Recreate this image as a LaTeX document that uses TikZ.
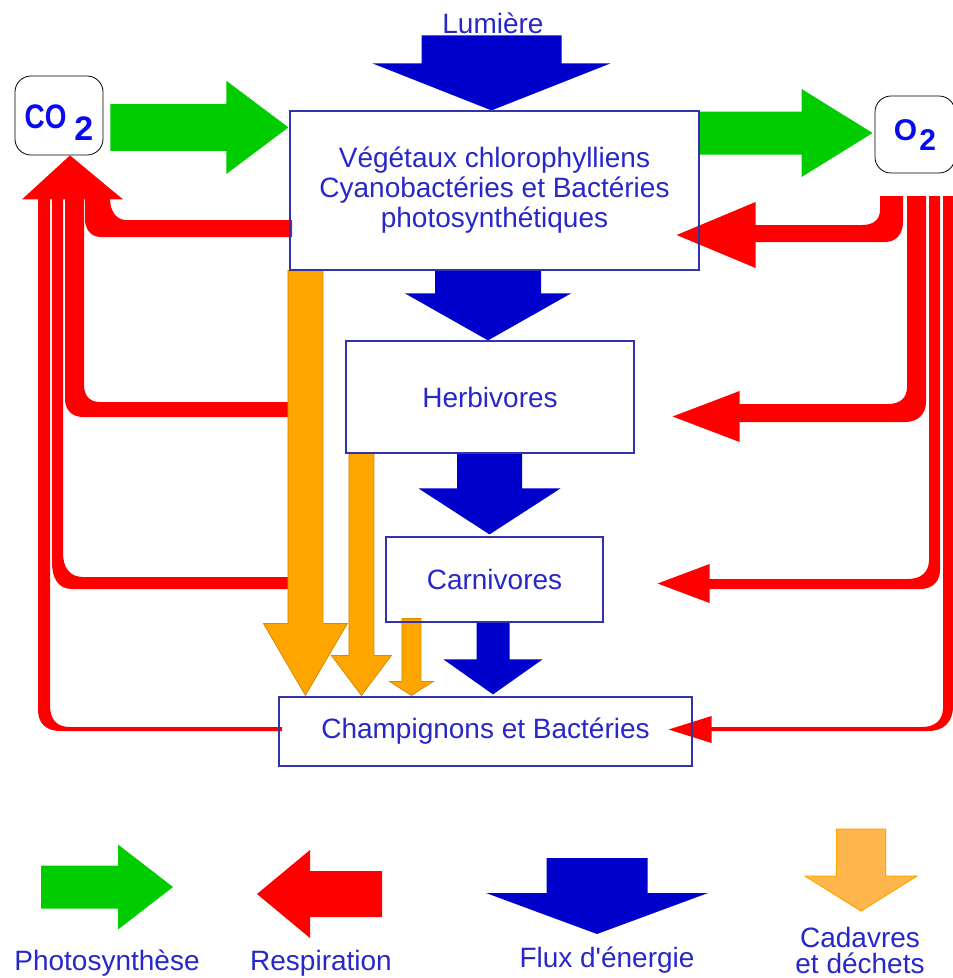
\documentclass[tikz,border=0pt]{standalone}
\usepackage{fontspec}
\setmainfont{Liberation Sans}
\usetikzlibrary{calc,backgrounds}
\definecolor{txtblue}{RGB}{40,40,200}
\definecolor{boxblue}{RGB}{50,50,170}
\definecolor{fgreen}{RGB}{0,204,0}
\definecolor{fred}{RGB}{255,0,0}
\definecolor{fblue}{RGB}{0,0,204}
\definecolor{forange}{RGB}{255,165,0}
\definecolor{forangeedge}{RGB}{215,140,0}
\definecolor{lorange}{RGB}{255,183,77}
\definecolor{chemblue}{RGB}{10,10,240}
% vertical fat arrow: style, from (y used), tip, shaft half width, head half width, head length
\newcommand{\vfat}[6]{\fill[#1] let \p1=(#2), \p2=(#3) in
 ({\x2-#4},{\y1}) -- ({\x2+#4},{\y1}) -- ({\x2+#4},{\y2+#6}) -- ({\x2+#5},{\y2+#6}) -- (\x2,\y2)
 -- ({\x2-#5},{\y2+#6}) -- ({\x2-#4},{\y2+#6}) -- cycle;}
% horizontal fat arrow: style, from (x used), tip, shaft half width, head half width, signed head length
\newcommand{\hfat}[6]{\fill[#1] let \p1=(#2), \p2=(#3) in
 ({\x1},{\y2+#4}) -- ({\x2-(#6)},{\y2+#4}) -- ({\x2-(#6)},{\y2+#5}) -- (\x2,\y2)
 -- ({\x2-(#6)},{\y2-#5}) -- ({\x2-(#6)},{\y2-#4}) -- ({\x1},{\y2-#4}) -- cycle;}
% left pointing red head: tip, half width, length
\newcommand{\lhead}[3]{\fill[fred] let \p2=(#1) in
 (\x2,\y2) -- ({\x2+#3},{\y2+#2}) -- ({\x2+#3},{\y2-#2}) -- cycle;}
\begin{document}
\begin{tikzpicture}[x=1pt,y=-1pt,
  txt/.style={font=\fontsize{28}{30}\selectfont, text=txtblue, inner sep=2pt},
  box/.style={draw=boxblue, line width=1.2pt, inner sep=0pt},
  chem/.style={draw=black, line width=0.8pt, rounded corners=16pt, inner sep=0pt,
    font=\fontsize{30}{32}\selectfont\bfseries, text=chemblue},
  orangearrow/.style={fill=forange, draw=forangeedge, line width=0.8pt},
  legorange/.style={fill=lorange, draw=forange, line width=1pt}]
\useasboundingbox (0,0) rectangle (953,978);

% boxes
\node[box, txt, align=center, minimum width=409, minimum height=159] (veg) at (494.5,190.5)
  {Végétaux chlorophylliens\\Cyanobactéries et Bactéries\\photosynthétiques};
\node[box, txt, minimum width=288, minimum height=112] (herb) at (490,397) {Herbivores};
\node[box, txt, minimum width=217, minimum height=85] (carn) at (494.5,579.5) {Carnivores};
\node[box, txt, minimum width=413, minimum height=69] (champ) at (485.5,731.5) {Champignons et Bactéries};
\node[chem, minimum width=88, minimum height=79] (co2) at (59,115.5)
  {\fontsize{34}{36}\selectfont\smash{\raisebox{-12.5pt}{\scalebox{0.82}[1]{CO}\hspace{8pt}\raisebox{-12pt}{2}}}};
\node[chem, minimum width=80, minimum height=77] (o2) at (915,134.5)
  {\smash{\raisebox{-5.5pt}{O\hspace{2pt}\raisebox{-10pt}{2}}}};
\node[txt, anchor=base] (lum) at (493,33) {Lumière};

% legend labels
\node[txt] (lphoto) at (107,963) {Photosynthèse};
\node[txt] (lresp) at (321,963) {Respiration};
\node[txt] (lflux) at (607,960) {Flux d{\addfontfeatures{Ligatures=TeXOff}'}énergie};
\node[txt, align=center, font=\fontsize{28}{26}\selectfont] (lcad) at (860,950) {Cadavres\\et déchets};

\begin{scope}[on background layer]
\fill[white] (0,0) rectangle (953,978);
% ---- respiration pipes, left side (to CO2)
\fill[fred] (85,198) -- (85,222) .. controls (87,232) and (92,237) .. (102,237) -- (292,237)
  -- (292,220) -- (125,220) .. controls (115,219) and (110,210) .. (110,198) -- cycle;
\fill[fred] (65,198) -- (65,399) .. controls (65,410) and (72,417) .. (83,417) -- (292,417)
  -- (292,402) -- (100,402) .. controls (90,402) and (84,396) .. (84,385) -- (84,198) -- cycle;
\fill[fred] (52,198) -- (52,562) .. controls (52,578) and (58,589) .. (72,589) -- (292,589)
  -- (292,577) -- (83,577) .. controls (70,577) and (63,568) .. (63,553) -- (63,198) -- cycle;
\fill[fred] (38,198) -- (38,710) .. controls (38,723) and (46,731) .. (60,731) -- (282,731)
  -- (282,727) -- (70,727) .. controls (57,727) and (50,720) .. (50,705) -- (50,198) -- cycle;
\fill[fred] let \p2=($(co2.south)+(11,0)$) in (\x2,\y2) -- ({\x2+53},{\y2-44}) -- ({\x2-48},{\y2-44}) -- cycle;
% ---- respiration pipes, right side (from O2)
\fill[fred] (880,196) -- (880,210) .. controls (880,220) and (873,225) .. (862,225) -- (750,225)
  -- (750,242) -- (885,242) .. controls (896,242) and (903,234) .. (903,222) -- (903,196) -- cycle;
\fill[fred] (907,196) -- (907,387) .. controls (907,398) and (900,404) .. (888,404) -- (735,404)
  -- (735,422) -- (905,422) .. controls (918,422) and (926,414) .. (926,402) -- (926,196) -- cycle;
\fill[fred] (929,196) -- (929,560) .. controls (929,572) and (921,579) .. (908,579) -- (705,579)
  -- (705,589) -- (920,589) .. controls (932,589) and (940,582) .. (940,570) -- (940,196) -- cycle;
\fill[fred] (943,196) -- (943,708) .. controls (943,720) and (935,727) .. (922,727) -- (705,727)
  -- (705,731) -- (928,731) .. controls (944,731) and (953,722) .. (953,706) -- (953,196) -- cycle;
\lhead{$(veg.east)+(-23,44.5)$}{33}{79}
\lhead{$(herb.east)+(38,19.5)$}{25.5}{67}
\lhead{$(carn.east)+(54,4)$}{19.5}{52}
\lhead{$(champ.east)+(-24,-2)$}{13.5}{43}
% ---- photosynthesis
\hfat{fgreen}{$(co2.east)+(7,0)$}{$(veg.north west)+(-1,17)$}{23.5}{46.5}{62}
\hfat{fgreen}{veg.east}{$(o2.west)+(-2,-1.5)$}{21.5}{44}{71}
% ---- energy flow
\vfat{fblue}{lum.south}{$(veg.north)+(-3,0)$}{70}{119}{47}
\vfat{fblue}{veg.south}{$(herb.north)+(-2,0)$}{53}{83}{47}
\vfat{fblue}{herb.south}{$(carn.north)+(-5,-2)$}{32.5}{71}{46}
\vfat{fblue}{carn.south}{$(champ.north)+(7.5,-2)$}{16.5}{49.5}{35}
% ---- dead matter
\vfat{orangearrow}{veg.south}{$(champ.north west)+(27,-1)$}{17.5}{42}{72}
\vfat{orangearrow}{herb.south}{$(champ.north west)+(83,-1)$}{12.5}{30}{40}
\vfat{orangearrow}{$(carn.south)+(0,-4)$}{$(champ.north west)+(133,-1)$}{9.5}{22}{14}
% ---- legend icons
\hfat{fgreen}{$(lphoto)+(-66,0)$}{$(lphoto)+(66,-76)$}{21.5}{42.5}{55}
\hfat{fred}{$(lresp)+(61,0)$}{$(lresp)+(-64,-69)$}{23}{44}{-53}
\vfat{fblue}{$(lflux)+(0,-102)$}{$(lflux)+(-10,-26)$}{50.5}{111}{41}
\vfat{legorange}{$(lcad)+(0,-121)$}{$(lcad)+(1,-39)$}{24.5}{56}{35}
\end{scope}
\end{tikzpicture}
\end{document}
